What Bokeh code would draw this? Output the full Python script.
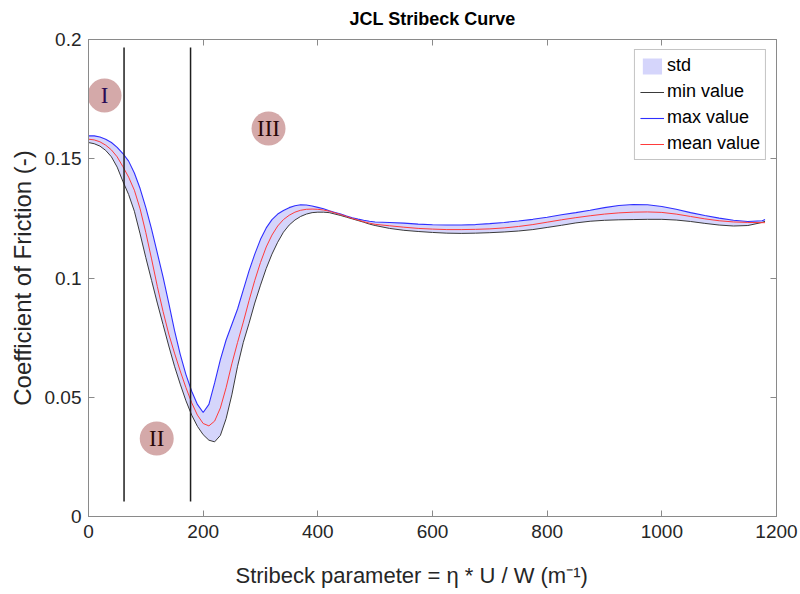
from bokeh.plotting import figure
from bokeh.models import ColumnDataSource, FixedTicker, LinearAxis, Range1d, Legend, LegendItem, Title
from bokeh.core.properties import value
from bokeh.embed import file_html
from bokeh.resources import INLINE

# Stribeck parameter samples
x = [0, 10, 20, 30, 40, 50, 60, 70, 80, 90, 100, 110, 120, 130, 140, 150, 160, 170, 180, 190,
     200, 210, 220, 230, 240, 250, 260, 270, 280, 290, 300, 310, 320, 330, 340, 350, 360, 370,
     380, 390, 400, 410, 420, 430, 440, 450, 460, 470, 480, 490, 500,
     525, 550, 575, 600, 625, 650, 675, 700, 725, 750, 775, 800, 825, 850, 875, 900, 925, 950,
     975, 1000, 1025, 1050, 1075, 1100, 1125, 1150, 1175, 1180]

# friction coefficient: minimum over the runs
cof_min = [0.1568, 0.1563, 0.1553, 0.1535, 0.1508, 0.1465, 0.1405, 0.1350, 0.1280, 0.1185,
           0.1085, 0.0990, 0.0895, 0.0805, 0.0715, 0.0630, 0.0555, 0.0485, 0.0425, 0.0378,
           0.0343, 0.0320, 0.0313, 0.0340, 0.0410, 0.0510, 0.0630, 0.0730, 0.0810, 0.0895,
           0.0970, 0.1040, 0.1100, 0.1150, 0.1192, 0.1222, 0.1243, 0.1258,
           0.1268, 0.1274, 0.1276, 0.1276, 0.1274, 0.1268, 0.1262, 0.1255, 0.1248, 0.1241,
           0.1234, 0.1226, 0.1220,
           0.1208, 0.1200, 0.1195, 0.1191, 0.1188, 0.1187, 0.1188, 0.1190, 0.1193, 0.1197,
           0.1203, 0.1212, 0.1221, 0.1231, 0.1238, 0.1242, 0.1244, 0.1245,
           0.1246, 0.1246, 0.1243, 0.1237, 0.1229, 0.1222, 0.1218, 0.1220, 0.1233, 0.1238]

# friction coefficient: maximum over the runs
cof_max = [0.1596, 0.1596, 0.1591, 0.1582, 0.1568, 0.1548, 0.1522, 0.1490, 0.1440, 0.1375,
           0.1295, 0.1205, 0.1105, 0.1005, 0.0895, 0.0780, 0.0680, 0.0595, 0.0525, 0.0470,
           0.0436, 0.0470, 0.0560, 0.0658, 0.0740, 0.0805, 0.0870, 0.0950, 0.1030, 0.1100,
           0.1162, 0.1210, 0.1245, 0.1268, 0.1283, 0.1295, 0.1303, 0.1307,
           0.1306, 0.1302, 0.1296, 0.1290, 0.1282, 0.1275, 0.1268, 0.1260, 0.1253, 0.1247,
           0.1242, 0.1238, 0.1235,
           0.1233, 0.1230, 0.1226, 0.1223, 0.1222, 0.1222, 0.1224, 0.1228, 0.1233, 0.1239,
           0.1246, 0.1255, 0.1265, 0.1274, 0.1284, 0.1295, 0.1304, 0.1308,
           0.1307, 0.1300, 0.1288, 0.1274, 0.1262, 0.1251, 0.1242, 0.1237, 0.1240, 0.1245]

# friction coefficient: mean over the runs
cof_mean = [0.1582, 0.1579, 0.1571, 0.1557, 0.1537, 0.1508, 0.1467, 0.1423, 0.1368, 0.1290,
            0.1190, 0.1080, 0.0965, 0.0860, 0.0765, 0.0685, 0.0610, 0.0540, 0.0477, 0.0425,
            0.0390, 0.0380, 0.0400, 0.0455, 0.0540, 0.0640, 0.0730, 0.0815, 0.0905, 0.0990,
            0.1065, 0.1130, 0.1180, 0.1218, 0.1245, 0.1263, 0.1276, 0.1284,
            0.1288, 0.1289, 0.1288, 0.1285, 0.1280, 0.1273, 0.1266, 0.1258, 0.1250, 0.1243,
            0.1236, 0.1230, 0.1225,
            0.1219, 0.1213, 0.1208, 0.1205, 0.1203, 0.1203, 0.1204, 0.1206, 0.1210, 0.1216,
            0.1224, 0.1234, 0.1244, 0.1253, 0.1261, 0.1268, 0.1273, 0.1276,
            0.1277, 0.1275, 0.1268, 0.1258, 0.1248, 0.1240, 0.1235, 0.1233, 0.1232, 0.1232]

# regime boundaries
bound_x = [62, 178]
bound_y0 = [0.0063, 0.0063]
bound_y1 = [0.1966, 0.1966]

# regime markers
regime_labels = ["I", "II", "III"]
regime_x = [28, 119, 314]
regime_y = [0.1765, 0.0327, 0.1627]
regime_colors = ["#2b0b55", "#2a0808", "#2a0808"]

x_ticks = [0, 200, 400, 600, 800, 1000, 1200]
y_ticks = [0, 0.05, 0.1, 0.15, 0.2]
y_tick_labels = ["0", "0.05", "0.1", "0.15", "0.2"]

FONT = "Liberation Sans"
AX_COL = "#8a8a8a"
TXT_COL = "#262626"


def pad_one_side(title, **sides):
    """Add padding on one side of a title, if this Bokeh version allows it."""
    try:
        full = dict(left=0, right=0, top=0, bottom=0)
        full.update(sides)
        title.padding = full
    except Exception:
        pass


src = ColumnDataSource(dict(x=x, lo=cof_min, hi=cof_max, mean=cof_mean))

p = figure(width=800, height=594, output_backend="svg", toolbar_location=None,
           x_range=Range1d(0, 1200), y_range=Range1d(0, 0.2),
           min_border_left=88, min_border_right=24, min_border_top=39, min_border_bottom=78,
           background_fill_color="white", border_fill_color="white")

p.title.text = "JCL Stribeck Curve"
p.title.align = "center"
p.title.text_font = FONT
p.title.text_font_size = "18px"
p.title.text_font_style = "bold"
p.title.text_color = "black"
pad_one_side(p.title, bottom=6)

p.grid.visible = False
p.outline_line_color = AX_COL

band = p.varea(x="x", y1="lo", y2="hi", source=src, fill_color="#d5d5fb")
l_min = p.line(x="x", y="lo", source=src, line_color="#3a3a3a", line_width=1)
l_max = p.line(x="x", y="hi", source=src, line_color="#2f2fff", line_width=1.1)
l_mean = p.line(x="x", y="mean", source=src, line_color="#ff3b3b", line_width=1)

p.segment(x0=bound_x, y0=bound_y0, x1=bound_x, y1=bound_y1, line_color="#1e1e1e", line_width=1.5)

p.scatter(x=regime_x, y=regime_y, size=34, fill_color="#c99494", fill_alpha=0.8, line_color=None)
p.text(x=regime_x, y=regime_y, text=regime_labels, text_color=regime_colors,
       text_font=value("Liberation Serif"), text_font_size="23px",
       text_align="center", text_baseline="middle")

# axes
for ax, ticks in ((p.xaxis[0], x_ticks), (p.yaxis[0], y_ticks)):
    ax.ticker = FixedTicker(ticks=ticks)
    ax.major_tick_in = 6
    ax.major_tick_out = 0
    ax.minor_tick_line_color = None
    ax.axis_line_color = AX_COL
    ax.major_tick_line_color = AX_COL
    ax.major_label_text_font = FONT
    ax.major_label_text_font_size = "19px"
    ax.major_label_text_color = TXT_COL
    ax.axis_label_text_font = FONT
    ax.axis_label_text_font_style = "normal"
    ax.axis_label_text_color = TXT_COL

p.yaxis[0].major_label_overrides = {t: s for t, s in zip(y_ticks, y_tick_labels)}
p.yaxis[0].axis_label = "Coefficient of Friction (-)"
p.yaxis[0].axis_label_text_font_size = "24px"
p.xaxis[0].major_label_standoff = 8
p.yaxis[0].major_label_standoff = 7
p.yaxis[0].axis_label_standoff = 6

# x-axis caption, placed a little left of the frame centre
xlabel = Title(text="Stribeck parameter = η * U / W (m⁻¹)", align="left", offset=147,
               text_font=FONT, text_font_size="22px", text_font_style="normal",
               text_color=TXT_COL)
pad_one_side(xlabel, top=15)
p.add_layout(xlabel, "below")

# mirrored tick marks on the top and right edges
for loc, ticks in (("above", x_ticks), ("right", y_ticks)):
    ax = LinearAxis(ticker=FixedTicker(ticks=ticks), major_tick_in=6, major_tick_out=0,
                    minor_tick_line_color=None, axis_line_color=AX_COL,
                    major_tick_line_color=AX_COL, major_label_text_font_size="1px",
                    major_label_overrides={t: "" for t in ticks},
                    major_label_standoff=0)
    p.add_layout(ax, loc)

legend = Legend(items=[
    LegendItem(label="std", renderers=[band]),
    LegendItem(label="min value", renderers=[l_min]),
    LegendItem(label="max value", renderers=[l_max]),
    LegendItem(label="mean value", renderers=[l_mean]),
], location="top_right")
legend.label_text_font = FONT
legend.label_text_font_size = "18px"
legend.label_text_color = "black"
legend.border_line_color = AX_COL
legend.border_line_width = 1
legend.background_fill_color = "white"
legend.background_fill_alpha = 1
legend.glyph_width = 24
legend.glyph_height = 20
legend.label_height = 20
legend.spacing = 5
legend.padding = 5
legend.margin = 10
legend.label_standoff = 3
p.add_layout(legend)

open("out.html", "w").write(file_html(p, INLINE))
